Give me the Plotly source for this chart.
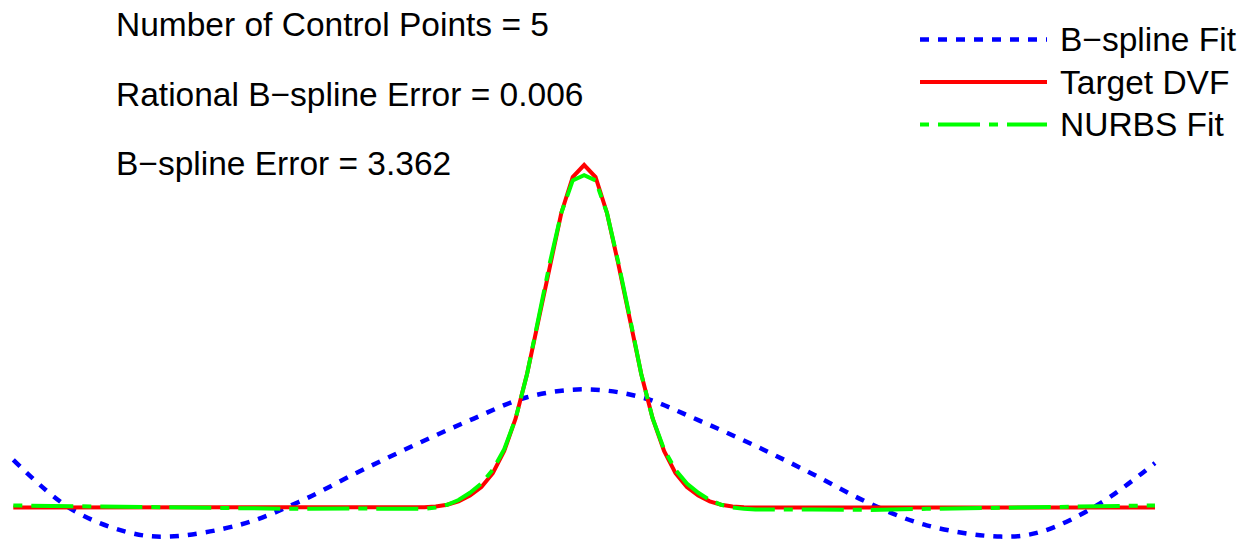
import plotly.graph_objects as go

# ---- data -------------------------------------------------------------
# Target displacement profile (sharp peak centred at x = 50, flat elsewhere)
target_x = [0, 35, 36, 37, 38, 39, 40, 41, 42, 43, 44, 45, 46, 47, 48, 49, 50,
            51, 52, 53, 54, 55, 56, 57, 58, 59, 60, 61, 62, 63, 64, 65, 100]
target_y = [0.0, 0.0, 0.001, 0.003, 0.008, 0.018, 0.035, 0.06, 0.10, 0.165,
            0.26, 0.39, 0.55, 0.71, 0.86, 0.965, 1.0, 0.965, 0.86, 0.71, 0.55,
            0.39, 0.26, 0.165, 0.10, 0.06, 0.035, 0.018, 0.008, 0.003, 0.001,
            0.0, 0.0]

# Rational (NURBS) fit
nurbs_x = [0, 5, 10, 15, 20, 25, 30, 35, 36, 37, 38, 39, 40, 41, 42, 43, 44,
           45, 46, 47, 48, 49, 50, 51, 52, 53, 54, 55, 56, 57, 58, 59, 60, 61,
           62, 63, 64, 65, 70, 75, 80, 85, 90, 95, 100]
nurbs_y = [0.006, 0.004, 0.001, 0.0, -0.003, -0.004, -0.003, -0.006, -0.004,
           0.0, 0.008, 0.022, 0.043, 0.07, 0.11, 0.17, 0.26, 0.39, 0.555,
           0.715, 0.86, 0.955, 0.97, 0.955, 0.86, 0.715, 0.555, 0.39, 0.26,
           0.17, 0.11, 0.07, 0.043, 0.022, 0.008, 0.0, -0.004, -0.006, -0.006,
           -0.007, -0.004, -0.001, 0.002, 0.005, 0.006]

# Plain B-spline fit
bspline_x = [0, 5, 10, 13.5, 20, 25, 30, 35, 40, 45, 50, 55, 60, 65, 70, 75,
             80, 86.5, 90, 95, 100]
bspline_y = [0.139, -0.003, -0.072, -0.085, -0.049, 0.016, 0.10, 0.18, 0.255,
             0.322, 0.345, 0.322, 0.255, 0.18, 0.098, 0.012, -0.052, -0.085,
             -0.071, 0.008, 0.13]

series_names = ["B\u2212spline Fit", "Target DVF", "NURBS Fit"]
info_lines = ["Number of Control Points = 5",
              "Rational B\u2212spline Error = 0.006",
              "B\u2212spline Error = 3.362"]

# ---- styling ----------------------------------------------------------
W, H = 1251, 543
FONT = "Liberation Sans, Arial, Helvetica, sans-serif"
FONT_SIZE = 33.5
BLUE, RED, GREEN = "#0000ff", "#ff0000", "#00ff00"
BLUE_DASH = "9px,9px"
GREEN_DASH = "9px,9px,42px,9px"

fig = go.Figure()
fig.add_trace(go.Scatter(x=bspline_x, y=bspline_y, mode="lines",
                         line=dict(color=BLUE, width=4.5, dash=BLUE_DASH,
                                   shape="spline"),
                         name=series_names[0], showlegend=False))
fig.add_trace(go.Scatter(x=target_x, y=target_y, mode="lines",
                         line=dict(color=RED, width=4),
                         name=series_names[1], showlegend=False))
fig.add_trace(go.Scatter(x=nurbs_x, y=nurbs_y, mode="lines",
                         line=dict(color=GREEN, width=4, dash=GREEN_DASH),
                         name=series_names[2], showlegend=False))

# hand-built legend in the top-right corner
legend_rows_px = [39.5, 82, 124.5]
legend_styles = [dict(color=BLUE, width=4.5, dash=BLUE_DASH),
                 dict(color=RED, width=4),
                 dict(color=GREEN, width=4, dash=GREEN_DASH)]
shapes, annotations = [], []
for name, ypx, style in zip(series_names, legend_rows_px, legend_styles):
    yp = 1 - ypx / H
    shapes.append(dict(type="line", xref="paper", yref="paper",
                       x0=920 / W, x1=1047 / W, y0=yp, y1=yp, line=style))
    annotations.append(dict(text=name, xref="paper", yref="paper",
                            x=1058 / W, y=yp, xanchor="left", yanchor="middle",
                            showarrow=False,
                            font=dict(family=FONT, size=FONT_SIZE,
                                      color="black")))

# error summary text at the top left
for line, ypx in zip(info_lines, [25, 94, 163]):
    annotations.append(dict(text=line, xref="paper", yref="paper",
                            x=114 / W, y=1 - ypx / H, xanchor="left",
                            yanchor="middle", showarrow=False,
                            font=dict(family=FONT, size=FONT_SIZE,
                                      color="black")))

# axis ranges chosen so x=0..100 spans the full curve width
fig.update_layout(
    width=W, height=H,
    margin=dict(l=0, r=0, t=0, b=0),
    paper_bgcolor="white", plot_bgcolor="white",
    xaxis=dict(range=[-1.165, 108.41], visible=False),
    yaxis=dict(range=[-0.10365, 1.4818], visible=False),
    shapes=shapes, annotations=annotations,
    showlegend=False,
)

fig.write_html("out.html")
